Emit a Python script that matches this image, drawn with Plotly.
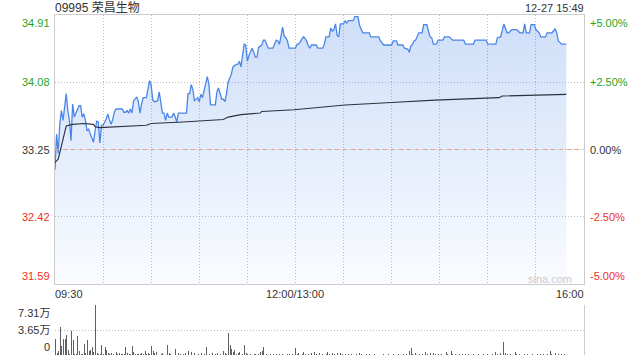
import plotly.graph_objects as go

# ---------------- data ----------------
stock_title = "09995 荣昌生物"
stamp = "12-27 15:49"
prev_close = 33.25

# session minutes from 09:30 (lunch removed: 150 = 12:00/13:00, 330 = 16:00)
price_min = [0,1,2,3,4,5,6,7,8,9,10,11,12,13,14,15,16,17,18,19,20,21,22,23,24,25,26,27,28,29,30,32,33,34,35,36,37,38,
             42,43,44,45,46,47,48,49,51,52,53,54,55,57,58,59,60,61,62,64,65,66,67,68,69,70,71,73,74,75,76,77,
             82,83,84,85,86,87,89,90,91,92,93,94,95,96,97,100,101,102,103,104,105,106,107,108,110,111,113,114,115,116,117,118,119,
             120,121,122,123,124,125,126,127,129,130,131,132,133,136,137,138,139,140,141,142,143,144,145,146,
             150,151,152,154,155,156,157,158,159,160,163,164,167,168,169,171,172,173,174,175,176,177,178,
             180,181,182,183,186,187,189,190,192,196,197,202,203,205,210,211,213,214,217,218,
             220,221,222,223,224,225,227,229,230,232,233,234,235,236,238,239,242,243,246,248,255,256,
             261,262,269,270,275,276,278,279,280,282,283,285,288,290,292,293,294,296,297,299,
             300,302,303,306,307,310,312,313,314,316,319]
price_val = [33.00,33.44,33.20,33.57,33.73,33.61,33.77,33.94,33.73,33.61,33.36,33.81,33.65,33.69,33.73,33.79,33.79,33.65,33.69,33.61,
             33.48,33.50,33.44,33.38,33.34,33.48,33.60,33.59,33.33,33.55,33.55,33.63,33.69,33.61,33.56,33.62,33.71,33.75,
             33.75,33.71,33.71,33.73,33.70,33.75,33.70,33.85,33.90,33.84,33.70,33.81,33.89,33.89,34.02,34.10,34.04,33.86,33.84,33.85,33.96,33.85,33.70,33.70,33.61,33.70,33.65,33.65,33.70,33.65,33.59,33.70,
             33.70,33.94,33.94,34.05,33.99,33.85,33.89,33.84,33.93,33.89,33.97,34.04,34.15,34.06,33.80,33.80,33.96,34.01,33.94,33.87,33.87,33.84,33.94,34.08,34.18,34.27,34.30,34.30,34.34,34.27,34.41,34.55,34.54,
             34.34,34.41,34.45,34.50,34.45,34.39,34.39,34.51,34.54,34.60,34.60,34.55,34.50,34.50,34.55,34.60,34.59,34.55,34.65,34.76,34.65,34.63,34.59,34.50,
             34.50,34.55,34.55,34.61,34.64,34.62,34.59,34.53,34.50,34.54,34.54,34.50,34.50,34.55,34.64,34.64,34.75,34.71,34.73,34.80,34.66,34.64,34.80,
             34.80,34.84,34.81,34.84,34.84,34.89,34.89,34.78,34.69,34.69,34.64,34.64,34.59,34.54,34.54,34.59,34.59,34.54,34.54,34.50,
             34.49,34.45,34.53,34.55,34.59,34.60,34.69,34.69,34.79,34.79,34.71,34.64,34.63,34.55,34.55,34.60,34.60,34.64,34.64,34.60,34.60,34.55,
             34.55,34.60,34.60,34.55,34.55,34.63,34.64,34.73,34.80,34.69,34.69,34.73,34.73,34.69,34.69,34.80,34.69,34.69,34.79,34.79,
             34.73,34.69,34.64,34.64,34.69,34.69,34.74,34.69,34.59,34.55,34.55]

avg_min = [0,2,7,11,18,24,25,28,57,60,80,105,108,116,128,129,149,159,181,210,237,277,279,319]
avg_val = [33.09,33.13,33.54,33.56,33.57,33.56,33.53,33.52,33.55,33.57,33.59,33.62,33.65,33.68,33.70,33.72,33.74,33.76,33.80,33.83,33.86,33.89,33.91,33.93]

# volume per minute, in 万 shares (minute 0..319)
volume = [2.34,0.24,0.63,4.14,1.36,2.34,2.34,2.97,0.73,0.1,3.56,2.19,0.15,0.1,2.83,0.54,0.15,0.1,1.61,0.24,
          2.19,0.54,0.73,1.12,0.39,7.31,0.24,0.15,0.1,1.51,0.1,1.12,0.73,0.3,0.1,0.24,0.1,0.06,0.49,0.15,
          0.24,0.1,0.15,0.1,1.12,0.24,0.1,0.15,1.36,0.49,0.1,0.15,0.1,0.2,0.24,0.1,0.63,0.15,0.3,0.1,
          1.36,0.63,0.34,0.49,0.24,0.06,0.1,0.24,0.06,0.1,1.51,0.24,0.15,0.06,0.1,0.88,0.06,0.24,0.15,0.06,
          0.1,0.34,0.06,0.63,0.24,0.39,0.06,0.3,0.06,0.15,0.06,0.24,0.06,0.1,1.22,0.06,0.15,0.06,0.34,0.06,
          0.1,0.3,0.06,0.15,0.06,0.63,0.24,0.1,3.17,1.51,0.88,0.39,0.73,0.15,0.24,0.49,0.06,0.15,1.51,0.24,
          0.1,0.06,0.15,0.06,0.1,0.15,0.06,0.1,0.39,0.54,1.12,0.06,0.15,0.06,0.1,0.06,0.15,0.06,0.2,0.06,
          0.1,0.06,0.15,0.06,0.06,0.1,0.1,0.06,0.1,0.06,0.97,0.15,0.24,0.06,0.1,0.49,0.15,0.06,0.1,0.06,
          0.24,0.06,0.49,0.15,0.06,0.34,0.06,0.15,0.06,0.1,0.39,0.15,0.06,0.34,0.2,0.06,0.24,0.06,0.3,0.15,
          0.06,0.1,0.06,0.2,0.06,0.1,0.06,0.06,0.15,0.06,0.24,0.1,0.06,0.06,0.1,0.06,0.15,0.06,0.06,0.1,
          0.06,0.06,0.1,0.06,0.06,0.1,0.06,0.06,0.1,0.06,0.06,0.1,0.06,0.06,0.1,0.06,0.06,0.15,0.06,0.2,
          0.06,0.54,1.07,0.1,0.06,0.3,0.06,0.2,0.06,0.15,0.06,0.49,0.15,0.06,0.3,0.06,0.24,0.15,0.06,0.1,
          0.06,0.15,0.06,0.06,0.39,0.15,0.06,0.63,0.15,0.06,0.15,0.06,0.1,0.06,0.1,0.06,0.1,0.06,0.1,0.06,
          0.06,0.1,0.06,0.06,0.1,0.06,0.06,0.1,0.06,0.06,0.1,0.06,0.06,0.1,0.06,0.39,0.1,0.06,0.24,0.06,
          1.94,0.24,0.15,0.06,0.1,0.06,0.06,0.49,0.15,0.06,0.1,0.06,0.06,0.15,0.06,0.1,0.06,0.06,0.15,0.06,
          0.06,0.1,0.06,0.15,0.06,0.1,0.06,0.1,0.06,0.63,0.15,0.06,0.24,0.06,0.1,0.06,0.1,0.06,0.1,0.06]
vol_min = list(range(len(volume)))

price_ticks = [34.91, 34.08, 33.25, 32.42, 31.59]
price_labels = ["34.91", "34.08", "33.25", "32.42", "31.59"]
pct_labels = ["+5.00%", "+2.50%", "0.00%", "-2.50%", "-5.00%"]
vol_ticks = [7.31, 3.65, 0]
vol_labels = ["7.31万", "3.65万", "0"]
time_ticks = [0, 150, 330]
time_labels = ["09:30", "12:00/13:00", "16:00"]
grid_minutes = [30, 60, 90, 120, 150, 180, 210, 240, 270, 300]

# ---------------- layout geometry ----------------
W, H = 640, 360
PX0, PX1 = 55, 584
MAIN_T, MAIN_B = 15, 284
VOL_T, VOL_B = 305, 355
XMAX = 330
YMIN, YMAX = price_ticks[-1], price_ticks[0]
VMAX = vol_ticks[0]

FONT = "Liberation Sans, Arial, Noto Sans CJK SC, sans-serif"
GREEN = "#1fa51f"
RED = "#ee3024"
DARK = "#333333"
GRID = "#bdbdbd"
BORDER = "#cccccc"
DOT = "1px,2px"

fig = go.Figure()

fig.add_trace(go.Scatter(
    x=price_min, y=price_val, mode="lines",
    line=dict(color="#4a86e8", width=1.3),
    fill="tozeroy",
    fillgradient=dict(type="vertical", start=YMIN, stop=YMAX,
                      colorscale=[[0, "rgba(74,134,232,0.03)"], [1, "rgba(74,134,232,0.27)"]]),
    xaxis="x", yaxis="y", hoverinfo="skip", showlegend=False))

fig.add_trace(go.Scatter(
    x=avg_min, y=avg_val, mode="lines",
    line=dict(color="#2b323d", width=1.1),
    xaxis="x", yaxis="y", hoverinfo="skip", showlegend=False))

fig.add_trace(go.Bar(
    x=vol_min, y=volume, width=0.6,
    marker=dict(color="#606060", line=dict(width=0)),
    xaxis="x2", yaxis="y2", hoverinfo="skip", showlegend=False))

xd = [PX0 / W, PX1 / W]
fig.update_layout(
    width=W, height=H,
    margin=dict(l=0, r=0, t=0, b=0),
    paper_bgcolor="white", plot_bgcolor="white",
    bargap=0,
    hovermode=False,
    xaxis=dict(domain=xd, range=[0, XMAX], showticklabels=False, ticks="",
               tickvals=grid_minutes, showgrid=True, gridcolor=GRID, griddash=DOT, gridwidth=1,
               zeroline=False, showline=True, mirror=True, linecolor=BORDER, linewidth=1,
               fixedrange=True),
    yaxis=dict(domain=[1 - MAIN_B / H, 1 - MAIN_T / H], range=[YMIN, YMAX],
               showticklabels=False, ticks="",
               tickvals=price_ticks[1:-1], showgrid=True, gridcolor=GRID, griddash=DOT, gridwidth=1,
               zeroline=False, showline=True, mirror=True, linecolor=BORDER, linewidth=1,
               fixedrange=True),
    xaxis2=dict(domain=xd, range=[-0.3, XMAX], anchor="y2", showticklabels=False,
                ticks="", showgrid=False, zeroline=False, showline=False, fixedrange=True),
    yaxis2=dict(domain=[1 - VOL_B / H, 1 - VOL_T / H], range=[0, VMAX], anchor="x2",
                side="right", showticklabels=False, ticks="",
                tickvals=vol_ticks, showgrid=True, gridcolor=GRID, griddash=DOT, gridwidth=1,
                zeroline=False, showline=True, linecolor=BORDER, linewidth=1,
                fixedrange=True),
)

shapes = []
# previous close line (orange dashed)
shapes.append(dict(type="line", xref="x", yref="y", x0=0, x1=XMAX, y0=prev_close, y1=prev_close,
                   line=dict(color="#e9a383", width=1, dash="4px,4px"), layer="above"))
fig.update_layout(shapes=shapes)

ann = []
n = len(price_ticks)
for i, (v, lab, pl) in enumerate(zip(price_ticks, price_labels, pct_labels)):
    if v > prev_close:
        col = GREEN
    elif v < prev_close:
        col = RED
    else:
        col = DARK
    ya = "top" if i == 0 else ("bottom" if i == n - 1 else "middle")
    ann.append(dict(xref="paper", yref="y", x=PX0 / W, y=v, text=lab, showarrow=False,
                    xanchor="right", yanchor=ya, xshift=-3,
                    font=dict(family=FONT, size=11, color=col)))
    ann.append(dict(xref="paper", yref="y", x=PX1 / W, y=v, text=pl, showarrow=False,
                    xanchor="left", yanchor=ya, xshift=4,
                    font=dict(family=FONT, size=11, color=col)))

nv = len(vol_ticks)
for i, (v, lab) in enumerate(zip(vol_ticks, vol_labels)):
    ya = "top" if i == 0 else ("bottom" if i == nv - 1 else "middle")
    ann.append(dict(xref="paper", yref="y2", x=PX0 / W, y=v, text=lab, showarrow=False,
                    xanchor="right", yanchor=ya, xshift=-3,
                    font=dict(family=FONT, size=11, color=DARK)))

for i, (t, lab) in enumerate(zip(time_ticks, time_labels)):
    xa = "left" if i == 0 else ("right" if i == len(time_ticks) - 1 else "center")
    ann.append(dict(xref="x", yref="paper", x=t, y=1 - 293.5 / H, text=lab, showarrow=False,
                    xanchor=xa, yanchor="middle", xshift=(-2 if i == 0 else (2 if xa == "right" else 0)),
                    font=dict(family=FONT, size=11, color=DARK)))

ann.append(dict(xref="paper", yref="paper", x=PX0 / W, y=1 - 7.5 / H, text=stock_title,
                showarrow=False, xanchor="left", yanchor="middle", xshift=-2,
                font=dict(family=FONT, size=12, color=DARK)))
ann.append(dict(xref="paper", yref="paper", x=PX1 / W, y=1 - 7.5 / H, text=stamp,
                showarrow=False, xanchor="right", yanchor="middle", xshift=2,
                font=dict(family=FONT, size=11, color=DARK)))
ann.append(dict(xref="paper", yref="paper", x=574 / W, y=1 - 279 / H, text="sina.com",
                showarrow=False, xanchor="right", yanchor="middle",
                font=dict(family=FONT, size=11, color="#cccccc")))
fig.update_layout(annotations=ann)

fig.write_html("out.html", config={"displayModeBar": False, "staticPlot": True},
               post_script="document.body.style.margin='0';document.body.style.overflow='hidden';")
